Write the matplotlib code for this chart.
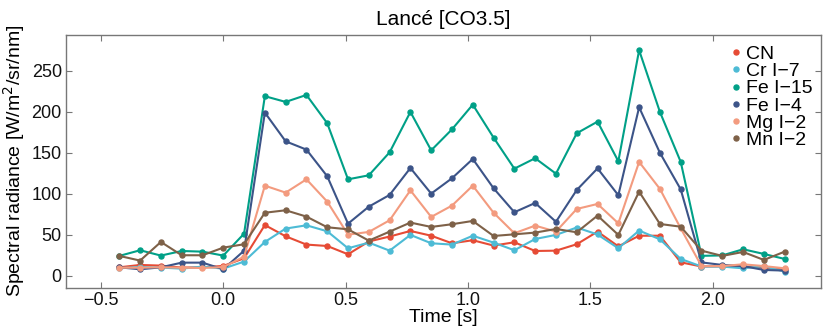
import matplotlib
matplotlib.use("Agg")
import matplotlib.pyplot as plt

plt.rcParams['font.family'] = ['Liberation Sans', 'DejaVu Sans']

time_s = [-0.425, -0.34, -0.255, -0.17, -0.085, 0.0, 0.085, 0.17, 0.255, 0.34,
          0.425, 0.51, 0.595, 0.68, 0.765, 0.85, 0.935, 1.02, 1.105, 1.19,
          1.275, 1.36, 1.445, 1.53, 1.615, 1.70, 1.785, 1.87, 1.955, 2.04,
          2.125, 2.21, 2.295]

cn = [10.5, 13.4, 12.6, 10.2, 10.5, 12.2, 21.5, 62, 48.3, 38.2,
      36.5, 26.4, 42, 48, 54.8, 49, 39.8, 43.5, 37, 41,
      30.4, 30.8, 38.6, 54, 36, 49, 49, 16.6, 11.5, 11.8,
      11.4, 10, 8]
cr = [9.3, 11, 10.2, 8.9, 11.4, 8.9, 17.5, 41.4, 57.7, 61.7,
      54.4, 33.7, 40.6, 30.8, 50, 39.8, 38.2, 49, 40.6, 31.3,
      45, 50, 59, 50.5, 33.7, 55.3, 44.6, 20.7, 11.5, 11.4,
      9.3, 12, 5.3]
fe15 = [24.4, 31.3, 24.8, 30.4, 29.6, 24.8, 51.5, 219, 212, 220.5,
        186, 117.7, 122.6, 150.6, 199.8, 153, 178.6, 208.7, 168.5, 130.7,
        143.4, 124.6, 173.8, 188, 139.7, 275, 199.8, 139, 24.5, 25,
        32.5, 26.8, 20.7]
fe4 = [10.5, 8.1, 10.5, 16.2, 16.2, 8.1, 30.8, 199, 164, 153.9,
       121.4, 63.7, 84.4, 98.7, 131.5, 100.3, 119, 142.5, 106.8, 77.6,
       88.9, 66, 104.7, 131, 98.3, 205.5, 150, 105.5, 16.5, 13.4,
       12, 7.3, 6.5]
mg = [10, 10, 10.6, 10, 9.7, 10.8, 23.5, 110, 101.5, 117.7,
      90.5, 50.3, 53.6, 67.8, 104.3, 71.9, 85.7, 110, 77, 52,
      61.3, 54, 81.6, 87.7, 64.1, 138.9, 106, 58, 12, 12,
      14.2, 12, 9.3]
mn = [24.4, 18.7, 41.4, 25.2, 25.2, 34.5, 38.6, 77, 80, 72.3,
      59.3, 56.8, 43, 54, 65, 59.7, 63, 67, 48.7, 50.7,
      52.8, 57.2, 53.2, 73.5, 50, 102.7, 63.3, 60, 30.8, 24.4,
      29.2, 19.5, 29.6]

series_names = ['CN', 'Cr I\u22127', 'Fe I\u221215', 'Fe I\u22124', 'Mg I\u22122', 'Mn I\u22122']
series_values = [cn, cr, fe15, fe4, mg, mn]
colors = ['#E64B35', '#4DBBD5', '#00A087', '#3C5488', '#F39B7F', '#7E6148']

fig = plt.figure(figsize=(8.3, 3.32), dpi=100)
ax = fig.add_axes([0.0795, 0.1335, 0.9095, 0.7610])

for name, vals, c in zip(series_names, series_values, colors):
    ax.plot(time_s, vals, '-o', color=c, lw=1.5, ms=3.6, label=name)

ax.set_xlim(-0.643, 2.443)
ax.set_ylim(-14.3, 293.5)
ax.set_xticks([-0.5, 0.0, 0.5, 1.0, 1.5, 2.0])
ax.set_xticklabels(['\u22120.5', '0.0', '0.5', '1.0', '1.5', '2.0'])
ax.set_yticks([0, 50, 100, 150, 200, 250])

for s in ax.spines.values():
    s.set_color('#777777')
    s.set_linewidth(1.0)
ax.tick_params(direction='in', top=True, right=True, length=4, width=0.8,
               color='#777777', labelsize=13, labelcolor='#111111', pad=3)

ax.set_xlabel('Time [s]', fontsize=14, labelpad=0)
ax.set_ylabel('Spectral radiance [W/m$^2$/sr/nm]', fontsize=14, labelpad=3)
ax.set_title('Lancé [CO3.5]', fontsize=15, pad=7)

leg = ax.legend(loc='upper right', frameon=False, fontsize=14, handlelength=0.5,
                handletextpad=0.3, labelspacing=-0.02, borderaxespad=0.0,
                bbox_to_anchor=(1.0, 0.99))
for h in leg.legend_handles:
    h.set_linestyle('none')

fig.savefig('out.png', dpi=100)
